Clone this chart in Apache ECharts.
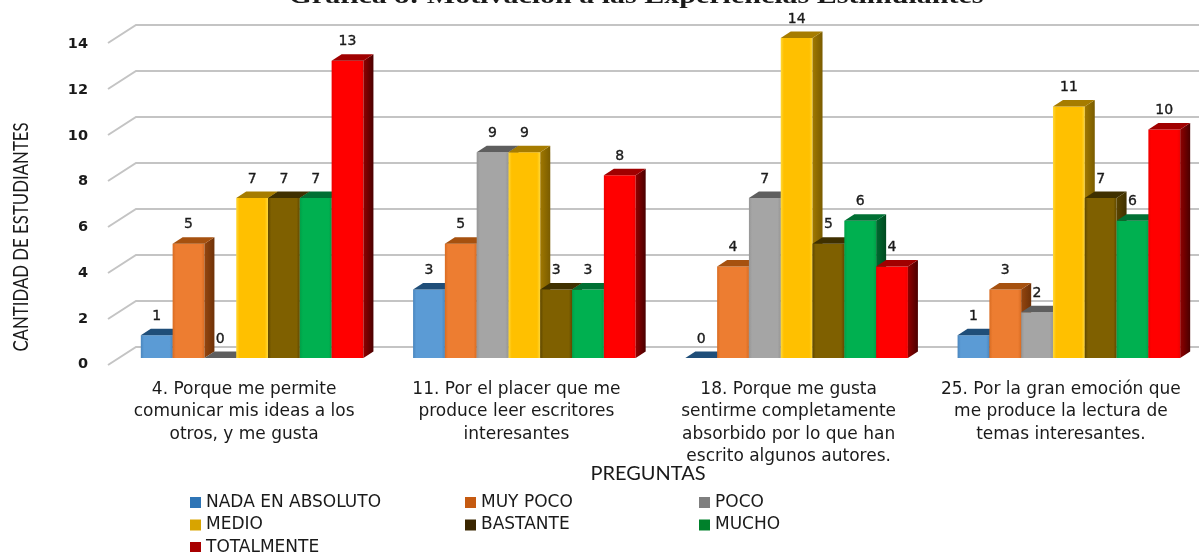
<!DOCTYPE html>
<html>
<head>
<meta charset="utf-8">
<style>html,body{margin:0;padding:0;background:#fff;overflow:hidden}#c{width:1199px;height:552px}</style>
<script src="https://cdn.jsdelivr.net/npm/echarts@6/dist/echarts.min.js"></script>
</head>
<body>
<div id="c"></div>
<script>
const categories = [
  '4. Porque me permite\ncomunicar mis ideas a los\notros, y me gusta',
  '11. Por el placer que me\nproduce leer escritores\ninteresantes',
  '18. Porque me gusta\nsentirme completamente\nabsorbido por lo que han\nescrito algunos autores.',
  '25. Por la gran emoción que\nme produce la lectura de\ntemas interesantes.'
];
const nadaEnAbsoluto = [1, 3, 0, 1];
const muyPoco = [5, 5, 4, 3];
const poco = [0, 9, 7, 2];
const medio = [7, 9, 14, 11];
const bastante = [7, 3, 5, 7];
const mucho = [7, 3, 6, 6];
const totalmente = [13, 8, 4, 10];
const gridValues = [0, 2, 4, 6, 8, 10, 12, 14];

// front, top and side shades of each column, plus the legend swatch
const seriesDefs = [
  { name: 'NADA EN ABSOLUTO', data: nadaEnAbsoluto, front: '#5B9BD5', edge: '#4A86BE', top: '#1F4E79', side: '#1F4E79', sideDark: '#143655', swatch: '#2E75B6' },
  { name: 'MUY POCO', data: muyPoco, front: '#ED7D31', edge: '#D96C22', top: '#A6510F', side: '#95460F', sideDark: '#6E3208', swatch: '#C55A11' },
  { name: 'POCO', data: poco, front: '#A5A5A5', edge: '#969696', top: '#5E5E5E', side: '#5E5E5E', sideDark: '#454545', swatch: '#7F7F7F' },
  { name: 'MEDIO', data: medio, front: '#FFC000', edge: '#FFD83A', top: '#A67C00', side: '#A07800', sideDark: '#7A5C00', swatch: '#D8A400' },
  { name: 'BASTANTE', data: bastante, front: '#7F6000', edge: '#5F4800', top: '#3F3000', side: '#5A4400', sideDark: '#3F3000', swatch: '#3A2600' },
  { name: 'MUCHO', data: mucho, front: '#00B050', edge: '#00A048', top: '#007034', side: '#006A30', sideDark: '#004A20', swatch: '#00802B' },
  { name: 'TOTALMENTE', data: totalmente, front: '#FF0000', edge: '#EE0000', top: '#A00000', side: '#900000', sideDark: '#4A0000', swatch: '#A80000' }
];

const barWidth = 31.8;
const depthX = 10;
const depthY = 6.5;
const labelColor = '#1a1a1a';

function columnRenderer(def, index) {
  return function (params, api) {
    const cat = api.value(0);
    const val = api.value(1);
    const center = api.coord([cat, 0])[0];
    const base = api.coord([cat, 0])[1];
    const top = api.coord([cat, val])[1];
    const x0 = center + (index - 3.5) * barWidth;
    const x1 = x0 + barWidth;
    const children = [];
    if (val > 0) {
      children.push({
        type: 'rect',
        shape: { x: x0, y: top, width: barWidth, height: base - top },
        style: {
          fill: new echarts.graphic.LinearGradient(0, 0, 1, 0, [
            { offset: 0, color: def.edge },
            { offset: 0.1, color: def.front },
            { offset: 0.9, color: def.front },
            { offset: 1, color: def.edge }
          ])
        }
      });
      children.push({
        type: 'polygon',
        shape: { points: [[x1, top], [x1 + depthX, top - depthY], [x1 + depthX, base - depthY], [x1, base]] },
        style: {
          fill: new echarts.graphic.LinearGradient(0, 0, 1, 0, [
            { offset: 0, color: def.side },
            { offset: 1, color: def.sideDark }
          ])
        }
      });
    }
    children.push({
      type: 'polygon',
      shape: { points: [[x0, top], [x0 + depthX, top - depthY], [x1 + depthX, top - depthY], [x1, top]] },
      style: { fill: def.top }
    });
    children.push({
      type: 'text',
      style: {
        x: x0 + barWidth / 2, y: top - 19, text: String(val),
        align: 'center', verticalAlign: 'middle',
        font: '14px "DejaVu Sans"', fill: labelColor,
        stroke: labelColor, lineWidth: 0.35
      }
    });
    return { type: 'group', children: children };
  };
}

// wall rulings with their slanted run across the side wall
function wallRenderer(params, api) {
  const y = api.coord([0, api.value(0)])[1];
  const left = params.coordSys.x;
  const right = left + params.coordSys.width;
  return {
    type: 'polyline',
    shape: { points: [[left - 28, y + 18], [left, y], [right, y]] },
    style: { stroke: '#C4C4C4', lineWidth: 2, fill: 'none' },
    silent: true
  };
}

const legendBase = {
  orient: 'vertical', itemWidth: 11, itemHeight: 11, itemGap: 5.5, icon: 'rect', height: 80,
  textStyle: { fontFamily: '"DejaVu Sans"', fontSize: 17, color: '#1a1a1a' },
  selectedMode: false
};

const stretchedText = (text, x, y, font, scaleX, rotation) => ({
  type: 'text', x: x, y: y, scaleX: scaleX, rotation: rotation || 0, silent: true,
  style: { text: text, font: font, fill: '#1a1a1a', align: 'center', verticalAlign: 'middle' }
});

const option = {
  animation: false,
  backgroundColor: '#fff',
  graphic: [
    stretchedText('Gráfica 8: Motivación a las Experiencias Estimulantes', 636, -3, 'bold 24px "Liberation Serif"', 1.25),
    stretchedText('CANTIDAD DE ESTUDIANTES', 21, 237, '21px "Lato"', 0.8, Math.PI / 2),
    stretchedText('PREGUNTAS', 648, 474, '20px "Lato"', 1)
  ],
  legend: [
    Object.assign({}, legendBase, { left: 185, top: 489, data: ['NADA EN ABSOLUTO', 'MEDIO', 'TOTALMENTE'] }),
    Object.assign({}, legendBase, { left: 460, top: 489, data: ['MUY POCO', 'BASTANTE'] }),
    Object.assign({}, legendBase, { left: 694, top: 489, data: ['POCO', 'MUCHO'] })
  ],
  grid: [
    { left: 116, width: 1089, top: 38, height: 320, outerBoundsMode: 'none' },
    { left: 136, width: 1063, top: 25, height: 322, outerBoundsMode: 'none' }
  ],
  xAxis: [
    {
      type: 'category', data: categories, gridIndex: 0,
      axisLine: { show: false }, axisTick: { show: false },
      axisLabel: {
        interval: 0, margin: 20, lineHeight: 22.5, align: 'center',
        fontFamily: '"DejaVu Sans"', fontSize: 17, color: '#1a1a1a',
        padding: [0, 16, 0, 0]
      }
    },
    { type: 'value', gridIndex: 1, show: false, min: 0, max: 1 }
  ],
  yAxis: [
    {
      type: 'value', gridIndex: 0, min: 0, max: 14, interval: 2,
      axisLine: { show: false }, axisTick: { show: false }, splitLine: { show: false },
      axisLabel: {
        margin: 28, fontFamily: '"DejaVu Sans"', fontWeight: 'bold', fontSize: 14.5, color: '#1a1a1a',
        verticalAlign: 'top', lineHeight: 13
      }
    },
    { type: 'value', gridIndex: 1, show: false, min: 0, max: 14, interval: 2 }
  ],
  series: [
    {
      type: 'custom', name: 'rejilla', silent: true, z: 1, clip: false,
      xAxisIndex: 1, yAxisIndex: 1,
      data: gridValues.map(v => [v]), encode: { y: 0 },
      renderItem: wallRenderer
    }
  ].concat(seriesDefs.map((def, i) => ({
    type: 'custom', name: def.name, z: 2, clip: false,
    xAxisIndex: 0, yAxisIndex: 0,
    itemStyle: { color: def.swatch },
    data: def.data.map((v, c) => [c, v]),
    encode: { x: 0, y: 1 },
    renderItem: columnRenderer(def, i)
  })))
};

const chart = echarts.init(document.getElementById('c'), null, { renderer: 'canvas' });
chart.setOption(option);
</script>
</body>
</html>
